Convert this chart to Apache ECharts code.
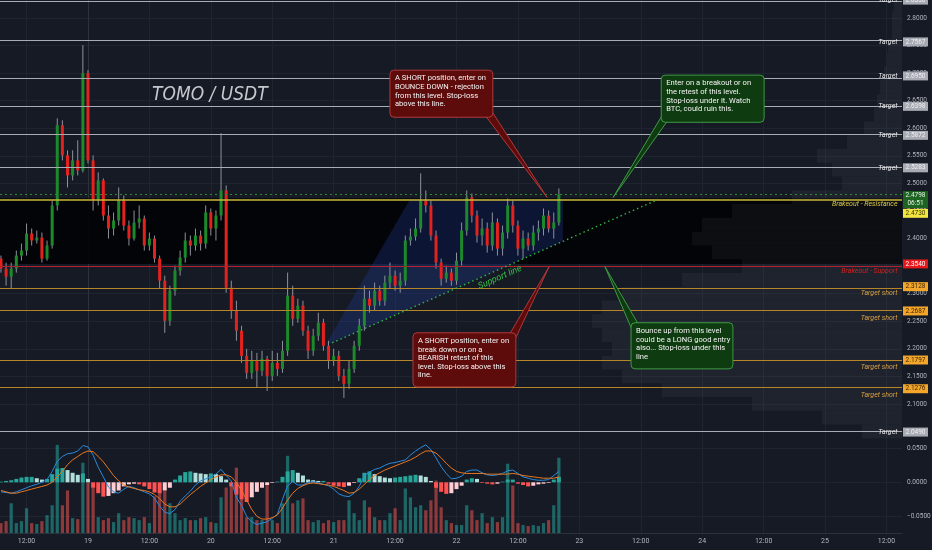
<!DOCTYPE html>
<html><head><meta charset="utf-8">
<script src="https://cdn.jsdelivr.net/npm/echarts@6/dist/echarts.min.js"></script>
<style>html,body{margin:0;padding:0;background:#151a25;}#c{width:932px;height:550px;}</style>
</head><body><div id="c"></div>
<script>
// ---- time: hours relative to the 19th 00:00; first candle = 18th 07:00 (1h candles)
const hourStart = -17;
const timeTicks = [-12,0,12,24,36,48,60,72,84,96,108,120,132,144,156];
const priceTicks = [2.10,2.15,2.20,2.25,2.30,2.35,2.40,2.45,2.50,2.55,2.60,2.65,2.70,2.75,2.80];
const macdTicks = [-0.05,0,0.05];

const open = [2.3636,2.3455,2.3309,2.3455,2.3691,2.3782,2.4091,2.3964,2.4018,2.3636,
2.3873,2.4600,2.6055,2.5509,2.5145,2.5418,2.5236,2.7000,2.5418,2.4691,
2.5055,2.4418,2.4182,2.4327,2.4691,2.4236,2.4000,2.4291,2.4364,2.3873,
2.4000,2.3636,2.3236,2.2509,2.3055,2.3418,2.3655,2.3964,2.3873,2.4055,
2.3909,2.4473,2.4182,2.4418,2.4873,2.3109,2.2691,2.2327,2.1873,2.1564,
2.1782,2.1600,2.1818,2.1509,2.1745,2.1636,2.1964,2.2964,2.2545,2.2782,
2.2327,2.1964,2.2236,2.2473,2.2055,2.1782,2.1873,2.1509,2.1364,2.1636,
2.2055,2.2418,2.2909,2.2782,2.3055,2.2873,2.3200,2.3327,2.3145,2.3236,
2.3964,2.4036,2.4182,2.4691,2.4600,2.4055,2.3564,2.3273,2.3382,2.3236,
2.3600,2.4145,2.4745,2.4418,2.4055,2.4182,2.3873,2.4291,2.3818,2.4109,
2.4600,2.4236,2.3818,2.4000,2.3873,2.4109,2.4182,2.4418,2.4182,2.4291];
const close = [2.3455,2.3309,2.3455,2.3691,2.3782,2.4091,2.3964,2.4018,2.3636,2.3873,
2.4600,2.6055,2.5509,2.5145,2.5418,2.5236,2.7000,2.5418,2.4691,2.5055,
2.4418,2.4182,2.4327,2.4691,2.4236,2.4000,2.4291,2.4364,2.3873,2.4000,
2.3636,2.3236,2.2509,2.3055,2.3418,2.3655,2.3964,2.3873,2.4055,2.3909,
2.4473,2.4182,2.4418,2.4873,2.3109,2.2691,2.2327,2.1873,2.1564,2.1782,
2.1600,2.1818,2.1509,2.1745,2.1636,2.1964,2.2964,2.2545,2.2782,2.2327,
2.1964,2.2236,2.2473,2.2055,2.1782,2.1873,2.1509,2.1364,2.1636,2.2055,
2.2418,2.2909,2.2782,2.3055,2.2873,2.3200,2.3327,2.3145,2.3236,2.3964,
2.4036,2.4182,2.4691,2.4600,2.4055,2.3564,2.3273,2.3382,2.3236,2.3600,
2.4145,2.4745,2.4418,2.4055,2.4182,2.3873,2.4291,2.3818,2.4109,2.4600,
2.4236,2.3818,2.4000,2.3873,2.4109,2.4182,2.4418,2.4182,2.4291,2.4798];
const low = [2.3382,2.3145,2.3091,2.3382,2.3600,2.3691,2.3873,2.3909,2.3564,2.3600,
2.3818,2.4509,2.5418,2.4927,2.5055,2.5145,2.5200,2.5364,2.4509,2.4600,
2.4327,2.4000,2.4055,2.4236,2.4145,2.3873,2.3964,2.4182,2.3782,2.3782,
2.3564,2.3091,2.2291,2.2418,2.2964,2.3327,2.3564,2.3691,2.3782,2.3782,
2.3818,2.4055,2.3964,2.4327,2.3018,2.2545,2.2145,2.1745,2.1455,2.1455,
2.1291,2.1509,2.1236,2.1418,2.1509,2.1564,2.1873,2.2418,2.2473,2.2236,
2.1818,2.1873,2.2145,2.1964,2.1636,2.1691,2.1418,2.1109,2.1273,2.1564,
2.1964,2.2327,2.2655,2.2691,2.2782,2.2782,2.3091,2.3055,2.3018,2.3145,
2.3873,2.3964,2.4109,2.4473,2.3964,2.3455,2.3145,2.3200,2.3145,2.3163,
2.3509,2.4055,2.4291,2.3927,2.3873,2.3745,2.3782,2.3691,2.3691,2.4000,
2.4109,2.3691,2.3636,2.3782,2.3782,2.3964,2.4055,2.4109,2.4000,2.4236];
const high = [2.3691,2.3564,2.3564,2.3782,2.3909,2.4273,2.4182,2.4145,2.4109,2.3964,
2.4691,2.6182,2.6145,2.5600,2.5600,2.5782,2.7509,2.7055,2.5509,2.5200,
2.5091,2.4600,2.4473,2.4927,2.4782,2.4327,2.4509,2.4600,2.4418,2.4109,
2.4055,2.3691,2.3327,2.3145,2.3509,2.3782,2.4109,2.4055,2.4182,2.4145,
2.4600,2.4545,2.4509,2.5909,2.4964,2.3236,2.2873,2.2418,2.2000,2.1964,
2.1927,2.1964,2.1873,2.1964,2.1927,2.2145,2.3382,2.3145,2.2909,2.2873,
2.2418,2.2363,2.2655,2.2545,2.2145,2.2000,2.1964,2.1636,2.1782,2.2145,
2.2545,2.3145,2.3055,2.3200,2.3145,2.3327,2.3564,2.3418,2.3382,2.4055,
2.4182,2.4364,2.5182,2.4873,2.4691,2.4145,2.3636,2.3509,2.3455,2.3745,
2.4291,2.4873,2.4818,2.4509,2.4364,2.4291,2.4473,2.4364,2.4236,2.4727,
2.4691,2.4327,2.4145,2.4109,2.4236,2.4327,2.4545,2.4509,2.4473,2.4909];
const volume = [10,12,30,10,12,25,10,9,12,18,
28,89,28,43,15,14,71,51,46,16,
13,15,11,20,13,16,15,13,16,10,
37,48,43,30,20,13,15,13,13,15,
16,11,10,36,46,48,66,35,16,16,
13,13,50,13,10,30,78,30,33,35,
13,11,13,10,13,11,13,13,33,20,
13,33,26,16,13,13,20,25,13,45,
36,26,28,23,33,53,26,13,10,8,
8,28,23,13,20,10,16,11,16,70,
48,10,8,7,8,7,10,13,28,76];
const macdLine = [-0.014,-0.015,-0.016,-0.014,-0.011,-0.008,-0.005,-0.003,0.000,0.004,
0.016,0.031,0.038,0.042,0.043,0.046,0.054,0.052,0.040,0.022,
0.008,-0.007,-0.014,-0.016,-0.010,-0.006,-0.008,-0.011,-0.014,-0.017,
-0.023,-0.035,-0.044,-0.046,-0.040,-0.028,-0.020,-0.013,-0.004,0.002,
0.005,0.008,0.012,0.019,0.010,0.002,-0.022,-0.034,-0.050,-0.058,
-0.062,-0.060,-0.058,-0.053,-0.047,-0.025,-0.005,0.001,-0.004,-0.004,
0.000,0.001,-0.001,-0.003,-0.005,-0.010,-0.017,-0.020,-0.021,-0.016,
-0.006,0.010,0.015,0.019,0.021,0.025,0.028,0.029,0.031,0.033,
0.040,0.046,0.051,0.055,0.048,0.036,0.023,0.013,0.005,0.006,
0.009,0.016,0.018,0.018,0.014,0.011,0.010,0.011,0.013,0.017,
0.018,0.013,0.008,0.006,0.004,0.003,0.003,0.004,0.010,0.016];
const signalLine = [-0.012,-0.014,-0.016,-0.016,-0.014,-0.012,-0.010,-0.008,-0.006,-0.004,
0.000,0.008,0.016,0.026,0.033,0.038,0.043,0.046,0.045,0.038,
0.030,0.020,0.010,0.002,-0.004,-0.007,-0.009,-0.011,-0.012,-0.014,
-0.018,-0.024,-0.032,-0.036,-0.036,-0.032,-0.025,-0.018,-0.012,-0.006,
-0.001,0.004,0.008,0.011,0.011,0.008,0.000,-0.012,-0.026,-0.040,
-0.050,-0.054,-0.054,-0.052,-0.048,-0.038,-0.026,-0.016,-0.009,-0.005,
-0.002,-0.001,-0.002,-0.003,-0.004,-0.006,-0.009,-0.012,-0.016,-0.015,
-0.010,-0.003,0.004,0.010,0.014,0.018,0.021,0.024,0.027,0.030,
0.033,0.037,0.042,0.046,0.046,0.043,0.036,0.028,0.021,0.016,
0.014,0.013,0.013,0.013,0.013,0.012,0.012,0.012,0.012,0.012,
0.013,0.012,0.010,0.009,0.008,0.007,0.006,0.006,0.006,0.008];
const macdHist = [0.001,0.002,0.003,0.005,0.007,0.008,0.008,0.006,0.004,0.005,
0.012,0.020,0.021,0.018,0.014,0.011,0.013,0.005,-0.008,-0.016,
-0.021,-0.020,-0.016,-0.012,-0.006,-0.003,-0.002,-0.003,-0.006,-0.010,
-0.015,-0.016,-0.012,-0.008,0.004,0.010,0.015,0.016,0.014,0.013,
0.012,0.013,0.012,0.009,0.004,-0.006,-0.018,-0.025,-0.029,-0.022,
-0.014,-0.008,-0.004,-0.001,0.001,0.008,0.016,0.018,0.014,0.010,
0.004,0.003,0.002,0.002,-0.002,-0.005,-0.006,-0.007,-0.005,-0.001,
0.006,0.014,0.016,0.012,0.009,0.007,0.006,0.007,0.008,0.009,
0.010,0.011,0.010,0.008,0.002,-0.008,-0.014,-0.017,-0.016,-0.010,
-0.005,0.004,0.006,0.005,-0.001,-0.002,-0.003,-0.002,0.001,0.004,
0.004,-0.002,-0.004,-0.006,-0.005,-0.003,-0.002,-0.001,0.004,0.008];

// visible-range volume profile (price bin centre, relative volume)
const profilePrice = [2.825,2.80,2.775,2.75,2.725,2.70,2.675,2.65,2.625,2.60,2.575,2.55,2.525,2.50,2.475,2.45,2.425,2.40,2.375,2.35,2.325,2.30,2.275,2.25,2.225,2.20,2.175,2.15,2.125,2.10,2.075,2.05];
const profileVol = [8,10,10,14,15,18,22,25,28,38,55,85,70,60,110,170,200,210,190,160,220,280,300,310,300,290,300,280,240,150,80,40];

// horizontal levels
const targetLevels = [2.8325,2.7567,2.6950,2.6398,2.5872,2.5283,2.0490];
const targetLabels = ['2.8330','2.7567','2.6950','2.6398','2.5872','2.5283','2.0490'];
const shortTargets = [2.3128,2.2687,2.1797,2.1276];
const resistance = 2.4730, supportLvl = 2.3540, lastPrice = 2.4798, countdown = '06:51';

// drawings (time in hours, price)
const supportLine = [47.7, 2.2109, 111.4, 2.4709];
const triangle = [46.3,2.2054, 62.9,2.4709, 92.8,2.4709, 92.8,2.3951, 47.7,2.2109];
// callouts: [tLeft, pTop, tRight, pBottom, tTip, pTip]
const callouts = [
  [59.0,2.7054,79.1,2.6200,89.7,2.4745],
  [112.0,2.6964,132.1,2.6109,102.6,2.4745],
  [63.5,2.2291,83.6,2.1309,90.1,2.3491],
  [106.1,2.2473,126.0,2.1636,101.0,2.3491]
];
const calloutText = [
  'A SHORT position, enter on\nBOUNCE DOWN - rejection\nfrom this level. Stop-loss\nabove this line.',
  'Enter on a breakout or on\nthe retest of this level.\nStop-loss under it. Watch\nBTC, could ruin this.',
  'A SHORT position, enter on\nbreak down or on a\nBEARISH retest of this\nlevel. Stop-loss above this\nline.',
  'Bounce up from this level\ncould be a LONG good entry\nalso... Stop-loss under this\nline'
];
const calloutCorner = ['br','bl','tr','tl'];
const calloutTone = ['red','green','red','green'];

// ---- layout constants
const X_MIN = -17.19, X_MAX = 159.04;
const Y_MIN = 2.0473, Y_MAX = 2.8327;
const M_MIN = -0.0745, M_MAX = 0.071;
const FONT = "Roboto, 'Liberation Sans', sans-serif";
const GRIDC = '#1f2431';

const times = open.map((_, i) => hourStart + i);
const candleData = times.map((t, i) => [t, open[i], close[i], low[i], high[i]]);
const upCol = '#1c8a2b', dnCol = '#e3211d';
const volData = times.map((t, i) => ({value: [t, volume[i]], itemStyle: {color: close[i] >= open[i] ? 'rgba(38,166,154,0.55)' : 'rgba(239,83,80,0.55)'}}));
const histData = times.map((t, i) => {
  const v = macdHist[i], p = i > 0 ? macdHist[i-1] : 0;
  const c = v >= 0 ? (v >= p ? '#26a69a' : '#b2dfdb') : (v < p ? '#ff5252' : '#ffcdd2');
  return {value: [t, v], itemStyle: {color: c}};
});

function tag(price, text, bg, fg, dy, h) {
  return {coord: [X_MAX, price], symbol: 'rect', symbolSize: [25, h || 9], symbolOffset: [13.5, dy || 0],
    itemStyle: {color: bg},
    label: {show: true, position: 'inside', formatter: text, color: fg, fontSize: 6.5, fontFamily: FONT, lineHeight: 8}};
}
function lvlText(price, text, color, dy) {
  return {coord: [X_MAX, price], symbol: 'rect', symbolSize: [1, 1], symbolOffset: [-4, dy],
    itemStyle: {color: 'rgba(0,0,0,0)'},
    label: {show: true, position: 'left', distance: 0, formatter: text, color: color, fontSize: 7, fontStyle: 'italic', fontFamily: FONT}};
}

const markLines = [];
const markPoints = [];
targetLevels.forEach((p, i) => {
  markLines.push({yAxis: p, lineStyle: {color: '#a9acb4', width: 1, type: 'solid'}});
  markPoints.push(tag(p, targetLabels[i], '#a7aab2', '#eef0f3'));
  markPoints.push(lvlText(p, 'Target', '#e6e7ea', 0));
});
shortTargets.forEach(p => {
  markLines.push({yAxis: p, lineStyle: {color: '#b58527', width: 1.2, type: 'solid'}});
  markPoints.push(tag(p, p.toFixed(4), '#f4a62a', '#3b2600'));
  markPoints.push(lvlText(p, 'Target short', '#d9a043', 7));
});
markLines.push({yAxis: supportLvl, lineStyle: {color: '#b3222e', width: 1.2, type: 'solid'}});
markPoints.push(tag(supportLvl, supportLvl.toFixed(4), '#e8171b', '#ffffff'));
markPoints.push(lvlText(supportLvl, 'Brakeout - Support', '#d3201f', 7));
markLines.push({yAxis: resistance, lineStyle: {color: '#cbb83a', width: 1.5, type: 'solid'}});
markPoints.push(tag(resistance, resistance.toFixed(4), '#f2e640', '#3a3500', 15));
markPoints.push(lvlText(resistance, 'Brakeout - Resistance', '#d8c84a', 6));
markLines.push({yAxis: lastPrice, lineStyle: {color: '#2f8a34', width: 1, type: [2, 3]}});
markPoints.push(tag(lastPrice, lastPrice.toFixed(4) + '\n' + countdown, '#1d6322', '#e4f3e4', 5, 17));

const chart = echarts.init(document.getElementById('c'), null, {renderer: 'canvas'});
chart.setOption({
  backgroundColor: '#151a25',
  animation: false,
  title: {text: 'TOMO / USDT', left: 147, top: 81,
    textStyle: {color: '#c6c8ce', fontSize: 19, fontStyle: 'italic', fontWeight: 'normal',
      fontFamily: "'Liberation Sans Narrow','DejaVu Sans Condensed',Roboto,sans-serif"}},
  grid: [
    {left: 0, right: 30, top: 0, height: 433, outerBoundsMode: 'none'},
    {left: 0, right: 30, top: 434, height: 99, outerBoundsMode: 'none'}
  ],
  xAxis: [
    {type: 'value', gridIndex: 0, min: X_MIN, max: X_MAX, axisLine: {show: false},
      axisTick: {show: false, customValues: timeTicks}, axisLabel: {show: false},
      splitLine: {show: true, lineStyle: {color: GRIDC, width: 1}}},
    {type: 'value', gridIndex: 1, min: X_MIN, max: X_MAX,
      axisLine: {show: true, onZero: false, lineStyle: {color: '#2c313d'}},
      axisTick: {show: false, customValues: timeTicks},
      axisLabel: {customValues: timeTicks, color: '#b2b5be', fontSize: 7, fontFamily: FONT, margin: 5,
        formatter: v => (v % 24 === 0 ? String(19 + v / 24) : '12:00')},
      splitLine: {show: true, lineStyle: {color: GRIDC, width: 1}}},
    {type: 'value', gridIndex: 0, inverse: true, min: 0, max: 902, show: false},
    {type: 'value', gridIndex: 1, min: X_MIN, max: X_MAX, show: false}
  ],
  yAxis: [
    {type: 'value', gridIndex: 0, position: 'right', min: Y_MIN, max: Y_MAX,
      axisLine: {show: true, lineStyle: {color: '#2c313d'}},
      axisTick: {show: false, customValues: priceTicks},
      axisLabel: {customValues: priceTicks, formatter: v => v.toFixed(4), color: '#b2b5be', fontSize: 6.5, fontFamily: FONT, margin: 5},
      splitLine: {show: true, lineStyle: {color: GRIDC, width: 1}}},
    {type: 'value', gridIndex: 1, position: 'right', min: M_MIN, max: M_MAX,
      axisLine: {show: true, lineStyle: {color: '#2c313d'}},
      axisTick: {show: false, customValues: macdTicks},
      axisLabel: {customValues: macdTicks, formatter: v => (v < 0 ? '\u22120.0500' : v.toFixed(4)), color: '#b2b5be', fontSize: 6.5, fontFamily: FONT, margin: 5},
      splitLine: {show: true, lineStyle: {color: GRIDC, width: 1}}},
    {type: 'value', gridIndex: 1, min: 0, max: 100, show: false}
  ],
  series: [
    { // dark band between support and resistance
      type: 'line', xAxisIndex: 0, yAxisIndex: 0, z: 1, data: [[X_MIN, Y_MIN]], symbol: 'none',
      lineStyle: {opacity: 0}, silent: true,
      markArea: {silent: true, itemStyle: {color: 'rgba(2,3,5,0.93)'}, data: [[{yAxis: supportLvl}, {yAxis: resistance}]]}
    },
    { // volume profile
      type: 'custom', xAxisIndex: 2, yAxisIndex: 0, z: 2, silent: true,
      data: profilePrice.map((p, i) => [profileVol[i], p]),
      renderItem: (params, api) => {
        const v = api.value(0), p = api.value(1);
        const a = api.coord([0, p + 0.0125]), b = api.coord([v, p - 0.0125]);
        return {type: 'rect', shape: {x: Math.min(a[0], b[0]), y: a[1], width: Math.abs(a[0] - b[0]), height: b[1] - a[1]},
          style: {fill: 'rgba(150,156,172,0.07)'}};
      }
    },
    { // triangle pattern shading
      type: 'custom', xAxisIndex: 0, yAxisIndex: 0, z: 2, silent: true,
      data: [triangle],
      renderItem: (params, api) => {
        const pts = [];
        for (let k = 0; k < triangle.length / 2; k++) pts.push(api.coord([api.value(2 * k), api.value(2 * k + 1)]));
        return {type: 'polygon', shape: {points: pts}, style: {fill: 'rgba(34,58,150,0.33)'}};
      }
    },
    { // candles
      type: 'custom', xAxisIndex: 0, yAxisIndex: 0, z: 3, silent: true,
      data: candleData,
      renderItem: (params, api) => {
        const t = api.value(0), o = api.value(1), c = api.value(2), l = api.value(3), h = api.value(4);
        const pO = api.coord([t, o]), pC = api.coord([t, c]), pL = api.coord([t, l]), pH = api.coord([t, h]);
        const bw = 3;
        const up = c >= o;
        const top = Math.min(pO[1], pC[1]), ht = Math.max(1, Math.abs(pO[1] - pC[1]));
        return {type: 'group', children: [
          {type: 'line', shape: {x1: pH[0], y1: pH[1], x2: pL[0], y2: pL[1]}, style: {stroke: '#8e919b', lineWidth: 1}},
          {type: 'rect', shape: {x: pO[0] - bw / 2, y: top, width: bw, height: ht}, style: {fill: up ? upCol : dnCol}}
        ]};
      }
    },
    { // levels, tags and level texts
      type: 'line', xAxisIndex: 0, yAxisIndex: 0, z: 5, data: [[X_MIN, Y_MIN]], symbol: 'none',
      lineStyle: {opacity: 0}, silent: true,
      markLine: {silent: true, symbol: ['none', 'none'], label: {show: false}, data: markLines},
      markPoint: {silent: true, data: markPoints}
    },
    { // support trend line + caption
      type: 'custom', xAxisIndex: 0, yAxisIndex: 0, z: 6, silent: true,
      data: [supportLine],
      renderItem: (params, api) => {
        const a = api.coord([api.value(0), api.value(1)]), b = api.coord([api.value(2), api.value(3)]);
        const ang = Math.atan2(b[1] - a[1], b[0] - a[0]);
        const mx = (a[0] + b[0]) / 2, my = (a[1] + b[1]) / 2;
        const off = 7;
        return {type: 'group', children: [
          {type: 'line', shape: {x1: a[0], y1: a[1], x2: b[0], y2: b[1]}, style: {stroke: '#35b543', lineWidth: 1.4, lineDash: [1.5, 3]}},
          {type: 'text', x: mx - Math.sin(ang) * off + 2, y: my + Math.cos(ang) * off, rotation: -ang,
            style: {text: 'Support line', fill: '#33c043', fontSize: 9, fontStyle: 'italic', fontFamily: FONT, align: 'center', verticalAlign: 'middle'}}
        ]};
      }
    },
    { // callouts
      type: 'custom', xAxisIndex: 0, yAxisIndex: 0, z: 10, silent: true,
      data: callouts,
      renderItem: (params, api) => {
        const i = params.dataIndex;
        const a = api.coord([api.value(0), api.value(1)]), b = api.coord([api.value(2), api.value(3)]);
        const tip = api.coord([api.value(4), api.value(5)]);
        const x = a[0], y = a[1], w = b[0] - a[0], h = b[1] - a[1];
        const red = calloutTone[i] === 'red';
        const fill = red ? '#5e0b0c' : '#0e3b10';
        const stroke = red ? '#b0393b' : '#3f9a45';
        let base;
        switch (calloutCorner[i]) {
          case 'br': base = [[x + w - 7, y + h - 1], [x + w - 1, y + h - 6]]; break;
          case 'bl': base = [[x + 1, y + h - 7], [x + 6, y + h - 1]]; break;
          case 'tr': base = [[x + w - 6, y + 1], [x + w - 1, y + 7]]; break;
          default: base = [[x + 1, y + 7], [x + 7, y + 1]];
        }
        return {type: 'group', children: [
          {type: 'polygon', shape: {points: [base[0], tip, base[1]]}, style: {fill: fill, stroke: stroke, lineWidth: 1}},
          {type: 'rect', shape: {x: x, y: y, width: w, height: h, r: 4}, style: {fill: fill, stroke: stroke, lineWidth: 1}},
          {type: 'text', x: x + 5, y: y + 4,
            style: {text: calloutText[i], fill: '#f4f4f4', fontSize: 7.6, fontFamily: FONT, lineHeight: 8.6, align: 'left', verticalAlign: 'top'}}
        ]};
      }
    },
    { // volume
      type: 'bar', xAxisIndex: 3, yAxisIndex: 2, z: 1, barWidth: 3.2, silent: true, data: volData
    },
    { // MACD histogram
      type: 'bar', xAxisIndex: 1, yAxisIndex: 1, z: 2, barWidth: 4, silent: true, data: histData
    },
    {type: 'line', xAxisIndex: 1, yAxisIndex: 1, z: 3, showSymbol: false, silent: true,
      data: times.map((t, i) => [t, macdLine[i]]), lineStyle: {color: '#2a8bdf', width: 1}},
    {type: 'line', xAxisIndex: 1, yAxisIndex: 1, z: 3, showSymbol: false, silent: true,
      data: times.map((t, i) => [t, signalLine[i]]), lineStyle: {color: '#e9781f', width: 1}}
  ]
});
</script></body></html>
